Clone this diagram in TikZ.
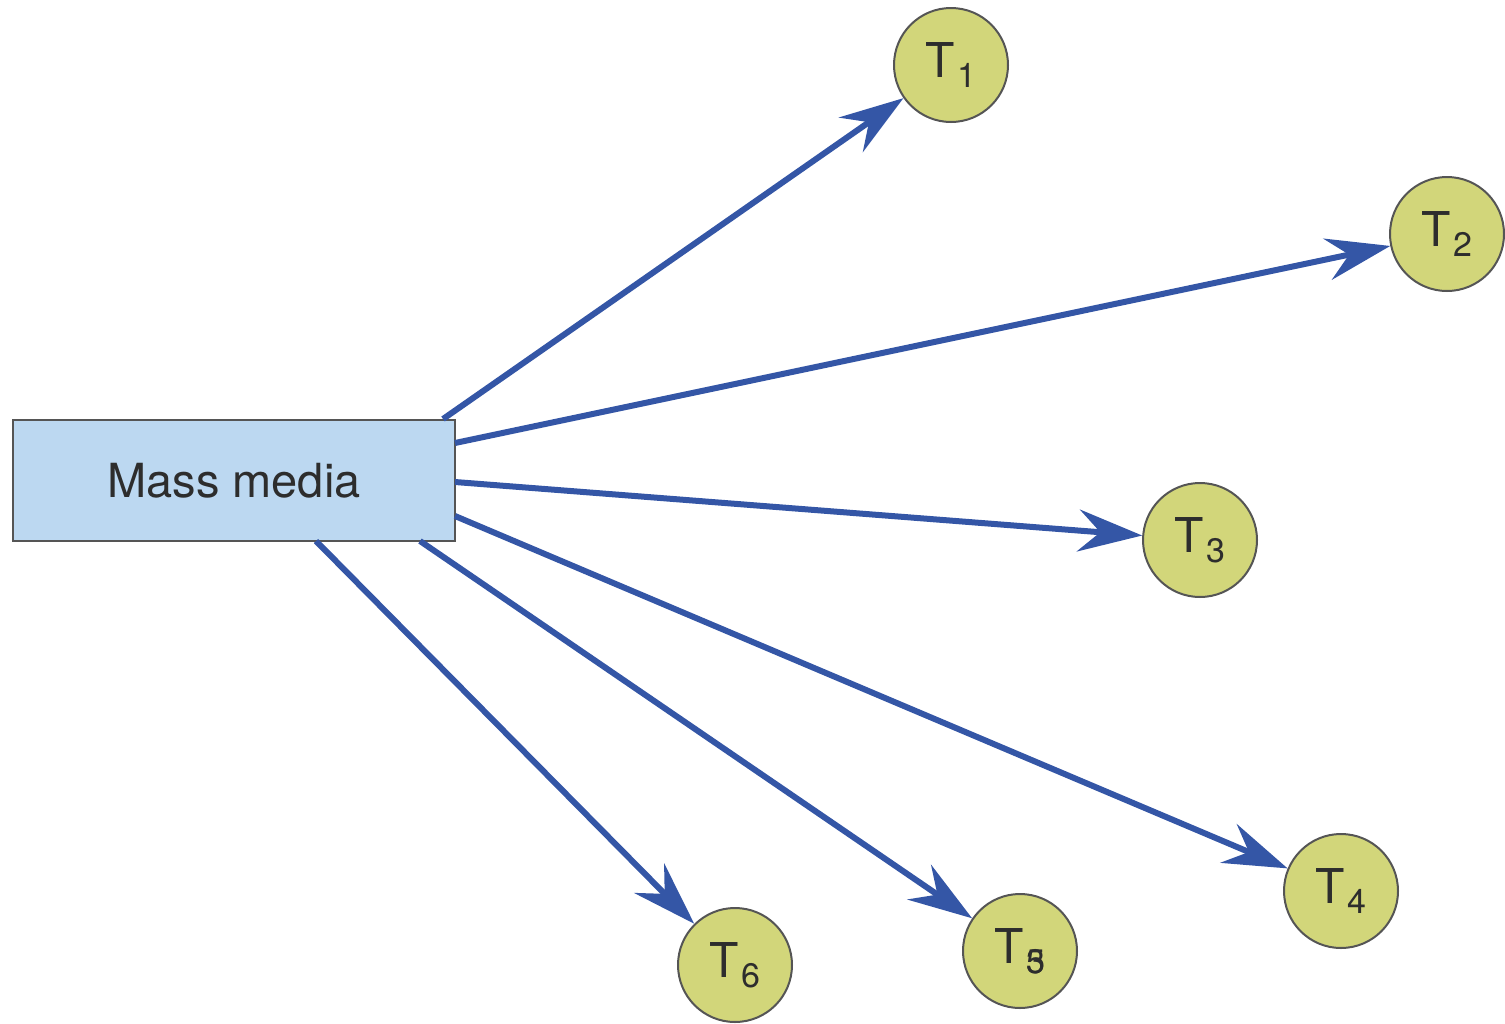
\documentclass[tikz,border=0pt]{standalone}
\usepackage{fontspec}
\setmainfont{TeX Gyre Heros}
\usetikzlibrary{arrows.meta}
\definecolor{boxfill}{RGB}{188,216,241}
\definecolor{boxline}{RGB}{85,85,85}
\definecolor{nodefill}{RGB}{210,214,122}
\definecolor{arrowblue}{RGB}{52,86,166}
\definecolor{txt}{RGB}{45,45,45}
\newcommand{\tlabel}[1]{T\kern2pt\raisebox{-10pt}{\fontsize{34}{34}\selectfont #1}}
\begin{document}
\begin{tikzpicture}[x=1pt,y=-1pt,
  mediabox/.style={draw=boxline,line width=2pt,fill=boxfill,minimum width=442pt,minimum height=121pt,inner sep=0pt,
    font=\fontsize{47}{56}\selectfont,text=txt},
  target/.style={circle,draw=boxline,line width=2pt,fill=nodefill,minimum size=114pt,inner sep=0pt,
    font=\fontsize{48}{56}\selectfont,text=txt},
  flow/.style={draw=arrowblue,line width=6pt,-{Stealth[length=64pt,width=42pt,inset=22pt]}}]
\useasboundingbox (0,0) rectangle (1505,1023);
\node[mediabox] (mm) at (234,480.5) {Mass media};
\node[target] (t1) at (951,65) {\tlabel{1}};
\node[target] (t2) at (1447,234) {\tlabel{2}};
\node[target] (t3) at (1200,540) {\tlabel{3}};
\node[target] (t4) at (1341,891) {\tlabel{4}};
\node[target] (t5) at (1020,951) {\tlabel{\rlap{3}5}};
\node[target] (t6) at (735,965) {\tlabel{6}};
% start points on the box outline
\coordinate (s1) at (443,419);
\coordinate (s2) at (455,443);
\coordinate (s3) at (455,482);
\coordinate (s4) at (455,516);
\coordinate (s5) at (420,541);
\coordinate (s6) at (316,541);
\draw[flow] (s1) -- (t1);
\draw[flow] (s2) -- (t2);
\draw[flow] (s3) -- (t3);
\draw[flow] (s4) -- (t4);
\draw[flow] (s5) -- (t5);
\draw[flow] (s6) -- (t6);
\end{tikzpicture}
\end{document}
